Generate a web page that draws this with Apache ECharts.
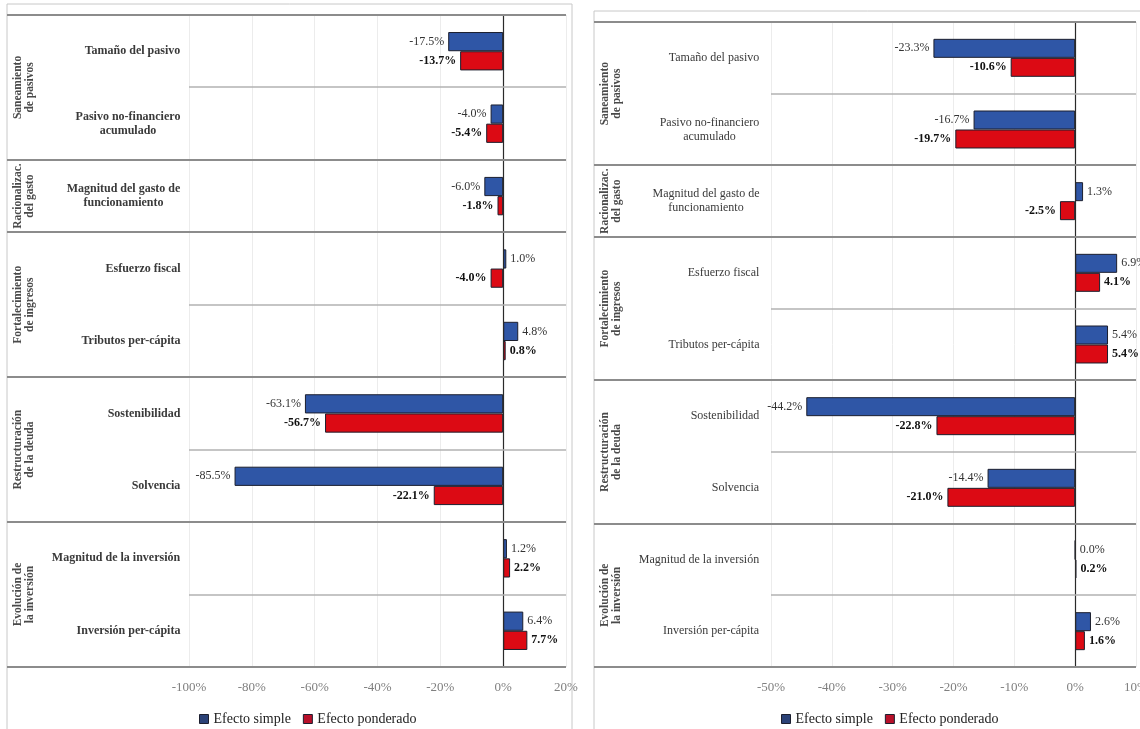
<!DOCTYPE html>
<html>
<head>
<meta charset="utf-8">
<script src="https://cdn.jsdelivr.net/npm/echarts@6/dist/echarts.min.js"></script>
<style>
  html, body { margin: 0; padding: 0; background: #fff; overflow: hidden; }
  #chart { width: 1140px; height: 729px; }
</style>
</head>
<body>
<div id="chart"></div>
<script>
// Indicator names (top to bottom) and the groups they belong to
const categories = [
  'Tamaño del pasivo',
  'Pasivo no-financiero\nacumulado',
  'Magnitud del gasto de\nfuncionamiento',
  'Esfuerzo fiscal',
  'Tributos per-cápita',
  'Sostenibilidad',
  'Solvencia',
  'Magnitud de la inversión',
  'Inversión per-cápita'
];
const groupNames = [
  'Saneamiento\nde pasivos',
  'Racionalizac.\ndel gasto',
  'Fortalecimiento\nde ingresos',
  'Restructuración\nde la deuda',
  'Evolución de\nla inversión'
];
const groupSizes = [2, 1, 2, 2, 2];

const seriesNames = ['Efecto simple', 'Efecto ponderado'];

// Left panel (%)
const leftSimple   = [-17.5, -4.0, -6.0, 1.0, 4.8, -63.1, -85.5, 1.2, 6.4];
const leftWeighted = [-13.7, -5.4, -1.8, -4.0, 0.8, -56.7, -22.1, 2.2, 7.7];
// Right panel (%)
const rightSimple   = [-23.3, -16.7, 1.3, 6.9, 5.4, -44.2, -14.4, 0.0, 2.6];
const rightWeighted = [-10.6, -19.7, -2.5, 4.1, 5.4, -22.8, -21.0, 0.2, 1.6];

// Value-axis ranges: [min, max, step]
const leftRange  = [-100, 20, 20];
const rightRange = [-50, 10, 10];

const SERIF = '"Liberation Serif", "DejaVu Serif", serif';
const BLUE = '#2f56a6';
const RED = '#dc0a14';

const chart = echarts.init(document.getElementById('chart'), null, { renderer: 'canvas' });

// Measure text so that two-line category labels can be centred line by line
const ctx = document.createElement('canvas').getContext('2d');
function textWidth(t, font) { ctx.font = font; return ctx.measureText(t).width; }

function categoryLabel(weight, margin) {
  const font = weight + ' 12px "Liberation Serif"';
  const rich = {};
  categories.forEach((c, i) => {
    const w = Math.max(...c.split('\n').map(l => textWidth(l, font)));
    rich['r' + i] = {
      width: Math.ceil(w) + 1, align: 'center',
      fontFamily: SERIF, fontSize: 12, fontWeight: weight, color: '#3a3a3a', lineHeight: 14
    };
  });
  return {
    margin: margin,
    fontFamily: SERIF, fontSize: 12, fontWeight: weight, color: '#3a3a3a', lineHeight: 14,
    formatter: (value, idx) => value.split('\n').map(l => '{r' + idx + '|' + l + '}').join('\n'),
    rich: rich
  };
}

function valueAxis(idx, range) {
  return {
    type: 'value', gridIndex: idx,
    min: range[0], max: range[1], interval: range[2],
    axisLine: { show: false }, axisTick: { show: false },
    splitLine: { show: true, lineStyle: { color: '#ececec', width: 1 } },
    axisLabel: {
      formatter: '{value}%', margin: 14,
      fontFamily: SERIF, fontSize: 13, color: '#808080'
    }
  };
}

function categoryAxis(idx, weight, margin) {
  return {
    type: 'category', gridIndex: idx, data: categories, inverse: true,
    axisLine: { show: false }, axisTick: { show: false }, splitLine: { show: false },
    axisLabel: categoryLabel(weight, margin)
  };
}

function barSeries(name, values, idx, color, bold, withZero) {
  const s = {
    type: 'bar', name: name, xAxisIndex: idx, yAxisIndex: idx,
    barGap: '0%', barCategoryGap: '47%',
    data: values.map(v => ({ value: v, label: { position: v < 0 ? 'left' : 'right' } })),
    itemStyle: { color: color, borderColor: '#1c1f2e', borderWidth: 1 },
    label: {
      show: true, distance: 4,
      formatter: p => p.value.toFixed(1) + '%',
      fontFamily: SERIF, fontSize: 12,
      fontWeight: bold ? 'bold' : 'normal',
      color: bold ? '#111' : '#333'
    },
    emphasis: { disabled: true }
  };
  if (withZero) {
    s.markLine = {
      silent: true, symbol: 'none', label: { show: false },
      lineStyle: { color: '#2a2a2a', width: 1.2, type: 'solid' },
      emphasis: { disabled: true },
      data: [{ xAxis: 0 }]
    };
  }
  return s;
}

function legendAt(left) {
  return {
    data: [
      { name: seriesNames[0], itemStyle: { color: '#2b4277', borderColor: '#1c1f2e', borderWidth: 1 } },
      { name: seriesNames[1], itemStyle: { color: '#b8102a', borderColor: '#1c1f2e', borderWidth: 1 } }
    ],
    left: left, top: 707,
    icon: 'rect', itemWidth: 9, itemHeight: 9, itemGap: 12,
    selectedMode: false,
    textStyle: { fontFamily: SERIF, fontSize: 14, color: '#222' }
  };
}

chart.setOption({
  animation: false,
  backgroundColor: '#fff',
  grid: [
    { left: 189, top: 15, width: 377, height: 652, containLabel: false, outerBoundsMode: 'none' },
    { left: 771, top: 22, width: 365, height: 645, containLabel: false, outerBoundsMode: 'none' }
  ],
  xAxis: [valueAxis(0, leftRange), valueAxis(1, rightRange)],
  yAxis: [categoryAxis(0, 'bold', 8), categoryAxis(1, 'normal', 11)],
  legend: [legendAt(194), legendAt(776)],
  series: [
    barSeries(seriesNames[0], leftSimple, 0, BLUE, false, true),
    barSeries(seriesNames[1], leftWeighted, 0, RED, true, false),
    barSeries(seriesNames[0], rightSimple, 1, BLUE, false, true),
    barSeries(seriesNames[1], rightWeighted, 1, RED, true, false)
  ]
});

// Panel frames, row separators and rotated group titles, positioned from the axes
function panelGraphics(idx, range, frameLeft, frameTop, frameWidth) {
  const els = [];
  const px = v => chart.convertToPixel({ xAxisIndex: idx }, v);
  const py = i => chart.convertToPixel({ yAxisIndex: idx }, i);
  const plotLeft = px(range[0]);
  const plotRight = px(range[1]);
  const band = py(1) - py(0);
  const edge = i => py(0) - band / 2 + i * band;

  els.push({
    type: 'rect', silent: true, z: 0,
    shape: { x: frameLeft, y: frameTop, width: frameWidth, height: 740 },
    style: { fill: 'none', stroke: '#c8c8c8', lineWidth: 1 }
  });

  const groupEdges = [0];
  groupSizes.forEach(n => groupEdges.push(groupEdges[groupEdges.length - 1] + n));

  for (let i = 0; i <= categories.length; i++) {
    const y = Math.round(edge(i));
    const major = groupEdges.indexOf(i) >= 0;
    els.push({
      type: 'line', silent: true, z: 5,
      shape: { x1: major ? frameLeft : plotLeft, y1: y, x2: plotRight, y2: y },
      style: { stroke: major ? '#8c8c8c' : '#b2b2b2', lineWidth: major ? 2 : 1.5 }
    });
  }

  groupNames.forEach((name, g) => {
    const cy = (edge(groupEdges[g]) + edge(groupEdges[g + 1])) / 2;
    els.push({
      type: 'text', silent: true, z: 6,
      x: frameLeft + 17, y: cy, rotation: Math.PI / 2,
      style: {
        text: name, align: 'center', verticalAlign: 'middle',
        font: 'bold 11.5px ' + SERIF, fill: '#4a4a4a', lineHeight: 12
      }
    });
  });
  return els;
}

chart.setOption({
  graphic: [
    ...panelGraphics(0, leftRange, 7, 4, 565),
    ...panelGraphics(1, rightRange, 594, 11, 600)
  ]
});
</script>
</body>
</html>
